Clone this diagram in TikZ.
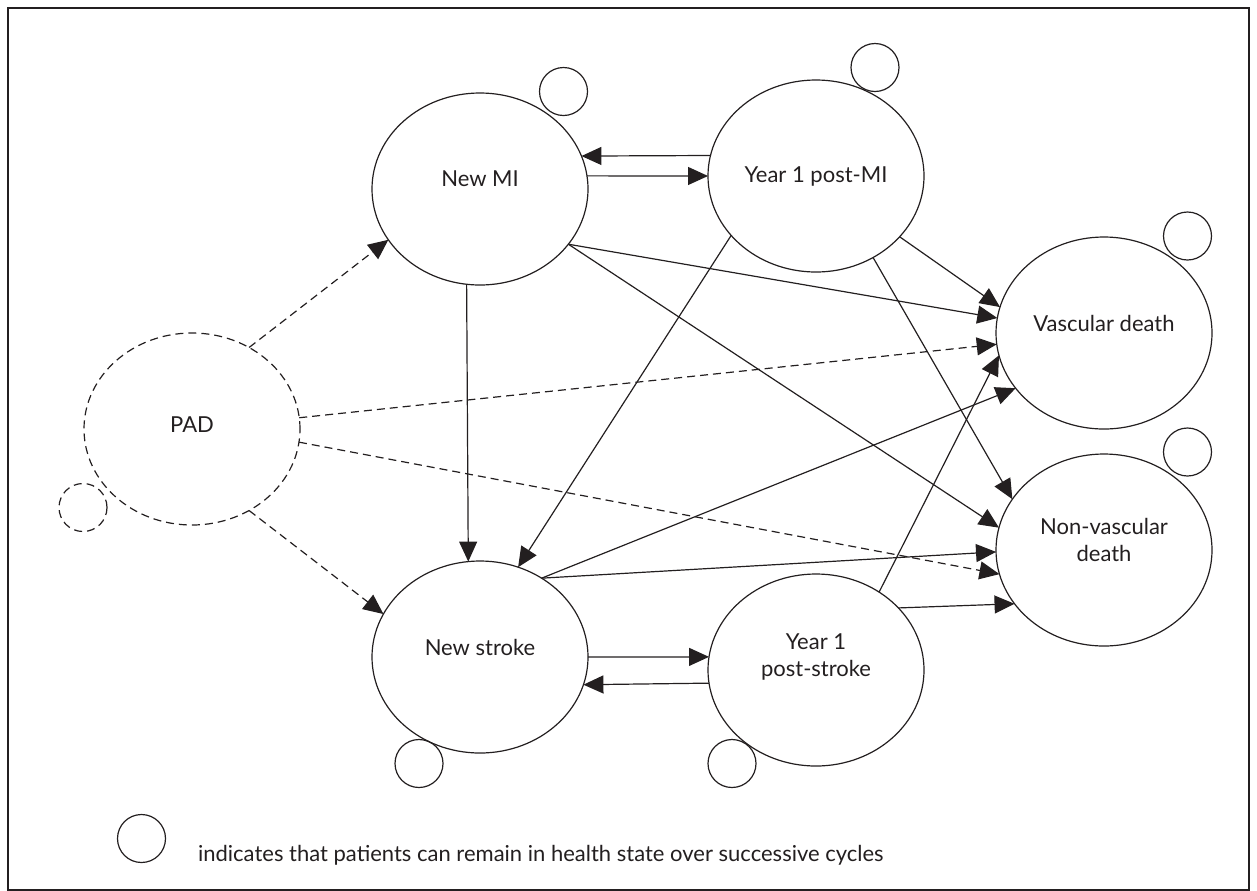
\documentclass[tikz,border=0pt]{standalone}
\usepackage{fontspec}
\setmainfont{Lato}
\usetikzlibrary{arrows.meta,shapes.geometric}
\definecolor{ink}{RGB}{35,31,32}

\begin{document}
\begin{tikzpicture}[x=0.5pt,y=-0.5pt,
    hstate/.style={draw=ink, ellipse, line width=0.6pt, minimum width=108pt, minimum height=96pt,
        inner sep=0pt, outer sep=0pt, text=ink, font=\fontsize{11}{13.5}\selectfont, align=center},
    padstate/.style={hstate, dash pattern=on 4pt off 2.5pt},
    stay/.style={draw=ink, circle, line width=0.6pt, minimum size=24pt, inner sep=0pt},
    flow/.style={draw=ink, line width=0.6pt, -{Triangle[length=10pt,width=9pt]}},
    padflow/.style={flow, dash pattern=on 4pt off 2.5pt}]
    \useasboundingbox (0,0) rectangle (1257,890);
    \draw[ink, line width=0.6pt] (8,8) rectangle (1249,890);

    % health states
    \node[padstate, text depth=4pt] (pad) at (192,429) {PAD};
    \node[hstate, text depth=10pt] (newmi) at (480,189) {New MI};
    \node[hstate] (postmi) at (816,176) {Year 1 post-MI};
    \node[hstate, text depth=10pt] (newst) at (480,657) {New stroke};
    \node[hstate, text depth=15pt] (postst) at (816,670) {Year 1\\post-stroke};
    \node[hstate, text depth=10pt] (vasc) at (1104,333) {Vascular death};
    \node[hstate, text depth=10pt] (nonvasc) at (1104,550) {Non-vascular\\death};

    % remain in state
    \node[stay] (stay-newmi) at (563.5,91.5) {};
    \node[stay] (stay-postmi) at (875,67.5) {};
    \node[stay] (stay-vasc) at (1187.5,236) {};
    \node[stay] (stay-nonvasc) at (1187.5,452) {};
    \node[stay, dash pattern=on 4pt off 2.5pt] (stay-pad) at (83,507.5) {};
    \node[stay] (stay-newst) at (419,763.5) {};
    \node[stay] (stay-postst) at (732,763.5) {};

    % transitions
    \draw[flow] (newmi.7) -- (postmi.180);
    \draw[flow] (postmi.169.3) -- (newmi.18);
    \draw[flow] (newst.0) -- (postst.173.1);
    \draw[flow] (postst.187.5) -- (newst.345.4);
    \draw[flow] (newmi.262.2) -- (newst.97.8);
    \draw[flow] (postmi.215.7) -- (newst.67);
    \draw[flow] (newmi.328.1) -- (vasc.172.2);
    \draw[flow] (newmi.328.1) -- (nonvasc.168.6);
    \draw[flow] (postmi.324.5) -- (vasc.166.1);
    \draw[flow] (postmi.305.9) -- (nonvasc.151.3);
    \draw[flow] (newst.52.8) -- (vasc.212.1);
    \draw[flow] (newst.52.8) -- (nonvasc.181.6);
    \draw[flow] (postst.51) -- (vasc.192.9);
    \draw[flow] (postst.37.2) -- (nonvasc.211.2);
    \draw[padflow] (pad.55.4) -- (newmi.209.5);
    \draw[padflow] (pad.305.4) -- (newst.156.5);
    \draw[padflow] (pad.6.9) -- (vasc.186.3);
    \draw[padflow] (pad.353.7) -- (nonvasc.193.9);

    % key
    \node[stay] (key) at (141.5,838.5) {};
    \node[anchor=base west, text=ink, font=\fontsize{11}{13.5}\selectfont] (keytext) at (191,861)
        {indicates that patients can remain in health state over successive cycles};
\end{tikzpicture}
\end{document}
